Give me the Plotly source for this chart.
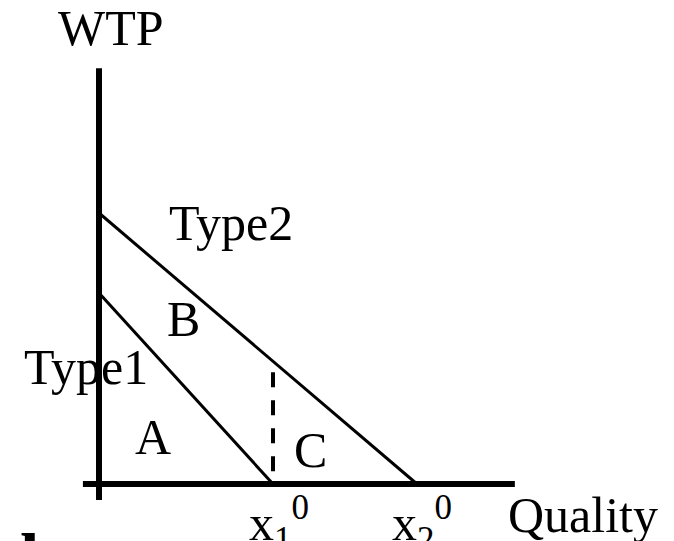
import plotly.graph_objects as go

# ---- data ----
type_names = ["Type1", "Type2"]
wtp_intercepts = [4.39, 6.23]        # WTP at zero quality
quality_intercepts = [4.0, 7.31]     # quality where WTP reaches zero
dashed_top = 2.57                    # top of dashed line at x1^0
axis_min, axis_max = -0.37, 9.56
region_labels = ["A", "B", "C"]
tick_labels = ["x<sub>1</sub><sup>0</sup>", "x<sub>2</sub><sup>0</sup>"]
x_title = "Quality"
y_title = "WTP"

FONT = "Times New Roman, Liberation Serif, serif"
FS = 50
BLACK = "#000000"

fig = go.Figure()

# axes drawn as lines
fig.add_trace(go.Scatter(x=[0, 0], y=[axis_min, axis_max], mode="lines",
                         line=dict(color=BLACK, width=6), hoverinfo="skip"))
fig.add_trace(go.Scatter(x=[axis_min, axis_max], y=[0, 0], mode="lines",
                         line=dict(color=BLACK, width=6), hoverinfo="skip"))

# demand (WTP) lines
for name, a, q in zip(type_names, wtp_intercepts, quality_intercepts):
    fig.add_trace(go.Scatter(x=[0, q], y=[a, 0], mode="lines", name=name,
                             line=dict(color=BLACK, width=3)))

# dashed line at x1^0
fig.add_trace(go.Scatter(x=[quality_intercepts[0], quality_intercepts[0]],
                         y=[dashed_top, 0], mode="lines",
                         line=dict(color=BLACK, width=4, dash="15px,13px")))

def lab(text, x, y, xanchor="center", yanchor="middle", size=FS, xref="x", yref="y"):
    fig.add_annotation(text=text, x=x, y=y, xref=xref, yref=yref, showarrow=False,
                       xanchor=xanchor, yanchor=yanchor,
                       font=dict(family=FONT, size=size, color=BLACK))

# type labels
lab(type_names[1], 3.03, 6.0)
lab(type_names[0], -0.30, 2.69)
# region labels
lab(region_labels[0], 1.24, 1.08)
lab(region_labels[1], 1.95, 3.79)
lab(region_labels[2], 4.87, 0.78)
# axis titles
lab(y_title, 0.28, 10.48)
lab(x_title, 11.13, -0.71)
# tick labels
lab(tick_labels[0], 3.40, -0.05, xanchor="left", yanchor="top")
lab(tick_labels[1], 6.69, -0.05, xanchor="left", yanchor="top")
# stray glyph fragment at the bottom-left edge
fig.add_annotation(text="<b>l</b>", x=29 / 674, y=23 / 541, xref="paper", yref="paper",
                   showarrow=False, xanchor="center", yanchor="top",
                   font=dict(family=FONT, size=70, color=BLACK))

fig.update_layout(
    width=674, height=541,
    margin=dict(l=0, r=0, t=0, b=0),
    paper_bgcolor="white", plot_bgcolor="white",
    showlegend=False,
    xaxis=dict(range=[-99 / 43.5, 575 / 43.5], visible=False, fixedrange=True),
    yaxis=dict(range=[-57 / 43.5, 484 / 43.5], visible=False, fixedrange=True),
)

fig.write_html("out.html",
               config={"displayModeBar": False},
               post_script="document.body.style.margin='0';document.body.style.overflow='hidden';")
